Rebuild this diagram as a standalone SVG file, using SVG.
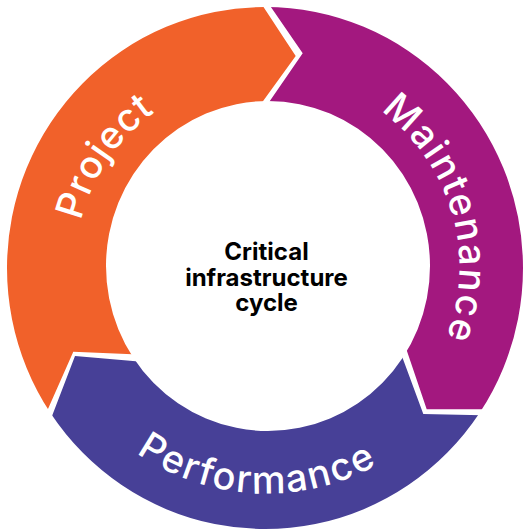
<svg xmlns="http://www.w3.org/2000/svg" width="524" height="529" viewBox="0 0 524 529">
<style>
.seg-label{font-family:Inter,"Liberation Sans",sans-serif;font-size:38px;font-weight:500;fill:#ffffff;letter-spacing:1.8px;text-anchor:middle}
.center-label{font-family:Inter,"Liberation Sans",sans-serif;font-size:24px;font-weight:700;fill:#000000;text-anchor:middle}
.project{fill:#F1612A}
.maintenance{fill:#A3187F}
.performance{fill:#474097}
</style>
<defs>
<clipPath id="ring"><path clip-rule="evenodd" d="M7,268 A258,261 0 1 0 523,268 A258,261 0 1 0 7,268 Z M106,266 A162,165 0 1 0 430,266 A162,165 0 1 0 106,266 Z"/></clipPath>
<path id="arc-project" d="M156.2,422.1 A190,190 0 0 1 370.3,108.2" fill="none"/>
<path id="arc-maint" d="M215.8,79.6 A194,194 0 0 1 322.7,452.5" fill="none"/>
<path id="arc-perf" d="M38.1,260.6 A228,228 0 0 0 493.5,281.3" fill="none"/>
</defs>
<g id="connectors"/>
<g id="node-project">
<polygon class="project" clip-path="url(#ring)" points="243.3,-23.7 263.3,6.7 295.7,56 263.3,100.7 248.3,121.4 268,266 150,355 126.7,354 73.3,351.7 48.3,408.3 38.3,430.9 -30,440 -30,-30 243.3,-30"/>
<text class="seg-label" style="letter-spacing:1px"><textPath href="#arc-project" startOffset="50%">Project</textPath></text>
</g>
<g id="node-maintenance">
<polygon class="maintenance" clip-path="url(#ring)" points="250.7,-22.4 270.7,6.7 302.7,53.3 270,100.7 257,119.6 268,266 402.3,337.3 408.3,355 426.7,409.3 485,409.3 560,409.3 560,-30 250.7,-30"/>
<text class="seg-label"><textPath href="#arc-maint" startOffset="50%">Maintenance</textPath></text>
</g>
<g id="node-performance">
<polygon class="performance" clip-path="url(#ring)" points="44.7,435.3 52.7,414.3 75,356 130,360.7 150,362.4 268,266 398,345.4 404,361.7 423.3,414 481.7,415.3 560,416 560,560 -30,560"/>
<text class="seg-label"><textPath href="#arc-perf" startOffset="50%">Performance</textPath></text>
</g>
<g id="node-center">
<text class="center-label" x="266.5" y="260">Critical</text>
<text class="center-label" x="266.5" y="285.5">infrastructure</text>
<text class="center-label" x="266.5" y="311">cycle</text>
</g>
</svg>
